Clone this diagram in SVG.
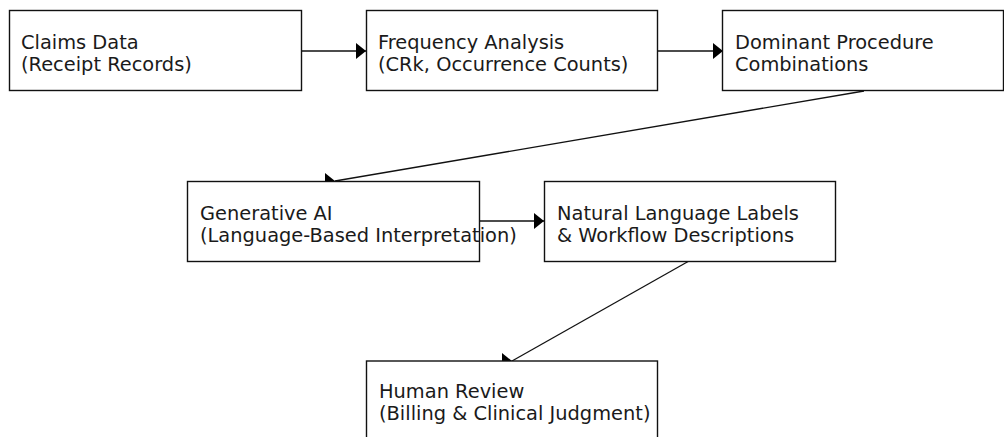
<svg xmlns="http://www.w3.org/2000/svg" width="1004" height="437" viewBox="0 0 1004 437">
<style>
.box{fill:#fff;stroke:#111;stroke-width:1.4}
.lbl{font-family:"DejaVu Sans",sans-serif;font-size:19.4px;fill:#1a1a1a}
.edge{stroke:#111;stroke-width:1.3;fill:none;marker-end:url(#arr)}
</style>
<defs>
<marker id="arr" markerUnits="userSpaceOnUse" markerWidth="11" markerHeight="17" refX="10" refY="8" orient="0">
<path d="M0,0 L10,8 L0,16 z" fill="#000"/>
</marker>
</defs>
<rect width="1004" height="437" fill="#fff"/>
<g id="connectors">
<line class="edge" x1="301" y1="51" x2="366" y2="51"/>
<line class="edge" x1="658" y1="51" x2="723" y2="51"/>
<line class="edge" x1="864" y1="91" x2="335" y2="181"/>
<line class="edge" x1="480" y1="221" x2="544" y2="221"/>
<line class="edge" x1="689" y1="261" x2="512" y2="361"/>
</g>
<g id="claims">
<rect class="box" x="9.5" y="10.5" width="292" height="80"/>
<text class="lbl" x="21" y="49">Claims Data</text>
<text class="lbl" x="21" y="71">(Receipt Records)</text>
</g>
<g id="frequency">
<rect class="box" x="366.5" y="10.5" width="291" height="80"/>
<text class="lbl" x="378" y="49">Frequency Analysis</text>
<text class="lbl" x="378" y="71">(CRk, Occurrence Counts)</text>
</g>
<g id="dominant">
<rect class="box" x="722.5" y="10.5" width="281" height="80"/>
<text class="lbl" x="735" y="49">Dominant Procedure</text>
<text class="lbl" x="735" y="71">Combinations</text>
</g>
<g id="genai">
<rect class="box" x="187.5" y="181.5" width="292" height="80"/>
<text class="lbl" x="200" y="220">Generative AI</text>
<text class="lbl" x="200" y="242">(Language-Based Interpretation)</text>
</g>
<g id="labels">
<rect class="box" x="544.5" y="181.5" width="291" height="80"/>
<text class="lbl" x="557" y="220">Natural Language Labels</text>
<text class="lbl" x="557" y="242">&amp; Workflow Descriptions</text>
</g>
<g id="review">
<rect class="box" x="366.5" y="361" width="291" height="80"/>
<text class="lbl" x="379" y="398">Human Review</text>
<text class="lbl" x="379" y="420">(Billing &amp; Clinical Judgment)</text>
</g>
</svg>
